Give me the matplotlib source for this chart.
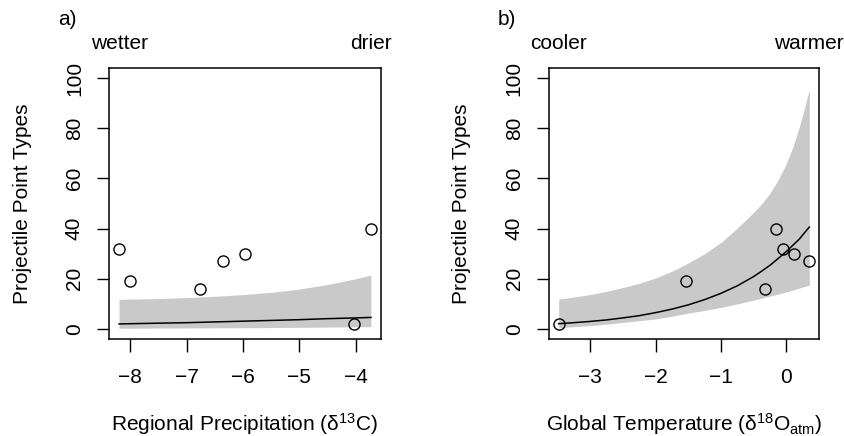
import numpy as np
import matplotlib
matplotlib.use("Agg")
import matplotlib.pyplot as plt
import matplotlib.transforms as mtransforms

plt.rcParams['font.family'] = ['Liberation Sans', 'DejaVu Sans']
plt.rcParams['mathtext.fontset'] = 'custom'
plt.rcParams['mathtext.rm'] = 'Liberation Sans'
plt.rcParams['mathtext.it'] = 'Liberation Sans:italic'

# observed counts
precip_x = [-8.2, -8.0, -6.77, -6.36, -5.96, -4.03, -3.73]
precip_y = [32, 19, 16, 27, 30, 2, 40]
temp_x = [-3.48, -1.54, -0.16, -0.32, -0.05, 0.11, 0.35]
temp_y = [2, 19, 40, 16, 32, 30, 27]

# fitted curve and band, panel a
fit_a_x = [-8.2, -7.5, -7.0, -6.5, -6.0, -5.5, -5.0, -4.5, -4.0, -3.73]
fit_a = [2.0, 2.3, 2.5, 2.8, 3.1, 3.4, 3.7, 4.1, 4.4, 4.6]
upr_a = [11.8, 12.1, 12.5, 13.0, 13.7, 14.6, 15.9, 17.7, 20.0, 21.5]
lwr_a = [0.3, 0.35, 0.4, 0.45, 0.5, 0.55, 0.65, 0.75, 0.85, 0.9]

# fitted curve and band, panel b
fit_b_x = [-3.48, -3.25, -3.0, -2.75, -2.5, -2.25, -2.0, -1.75, -1.5, -1.25,
           -1.0, -0.75, -0.5, -0.375, -0.25, -0.125, 0.0, 0.1, 0.2, 0.275, 0.35]
fit_b = [2.1, 2.5, 3.0, 3.6, 4.4, 5.3, 6.5, 7.9, 9.6, 11.7, 14.2, 17.2, 20.9,
         23.1, 25.4, 28.1, 30.9, 33.4, 35.9, 38.3, 40.6]
upr_b = [11.9, 12.7, 13.7, 15.0, 16.5, 18.2, 20.3, 23.0, 26.3, 30.0, 34.5,
         40.2, 46.5, 50.0, 54.2, 59.5, 66.0, 72.6, 80.8, 87.9, 95.5]
lwr_b = [0.5, 0.9, 1.3, 1.9, 2.6, 3.3, 4.0, 5.1, 6.3, 7.4, 8.6, 10.0, 11.5,
         12.3, 13.1, 13.9, 14.8, 15.5, 16.3, 16.9, 17.5]

panels = [
    dict(x=precip_x, y=precip_y, fx=fit_a_x, fit=fit_a, up=upr_a, lo=lwr_a,
         xticks=[-8, -7, -6, -5, -4], letter='a)', left='wetter', right='drier',
         xlabel=r'Regional Precipitation ($\mathregular{\delta^{13}}$C)',
         pos=[0.1291, 0.2225, 0.3223, 0.6215]),
    dict(x=temp_x, y=temp_y, fx=fit_b_x, fit=fit_b, up=upr_b, lo=lwr_b,
         xticks=[-3, -2, -1, 0], letter='b)', left='cooler', right='warmer',
         xlabel=r'Global Temperature ($\mathregular{\delta^{18}O_{atm}}$)',
         pos=[0.6501, 0.2225, 0.3207, 0.6215]),
]

fig = plt.figure(figsize=(8.44, 4.36), dpi=100)
fs = 15

for p in panels:
    ax = fig.add_axes(p['pos'])
    ax.fill_between(p['fx'], p['lo'], p['up'], color='#c9c9c9', lw=0)
    ax.plot(p['fx'], p['fit'], color='black', lw=1.1)
    ax.plot(p['x'], p['y'], 'o', mfc='none', mec='black', ms=8, mew=1.0)

    xmin, xmax = min(p['x']), max(p['x'])
    pad = 0.04 * (xmax - xmin)
    ax.set_xlim(xmin - pad, xmax + pad)
    ax.set_ylim(-4, 104)
    ax.set_xticks(p['xticks'])
    ax.set_xticklabels([str(t).replace('-', '\u2212') for t in p['xticks']])
    ax.set_yticks([0, 20, 40, 60, 80, 100])
    ax.set_yticklabels(['0', '20', '40', '60', '80', '100'], rotation=90, va='center')
    ax.tick_params(direction='out', length=9, width=1, labelsize=fs)
    ax.tick_params(axis='y', pad=9)
    ax.tick_params(axis='x', pad=12)
    for s in ax.spines.values():
        s.set_linewidth(1.1)

    ax.set_xlabel(p['xlabel'], fontsize=fs, labelpad=17)
    ax.set_ylabel('Projectile Point Types', fontsize=fs, labelpad=24)

    tr = mtransforms.blended_transform_factory(ax.transData, fig.transFigure)
    ax.text(xmin, 0.90, p['left'], transform=tr, ha='center', va='center', fontsize=fs)
    ax.text(xmax, 0.90, p['right'], transform=tr, ha='center', va='center', fontsize=fs)
    ax.text(p['pos'][0] - 0.06, 0.955, p['letter'], transform=fig.transFigure,
            ha='left', va='center', fontsize=fs)

fig.savefig('out.png', dpi=100)
